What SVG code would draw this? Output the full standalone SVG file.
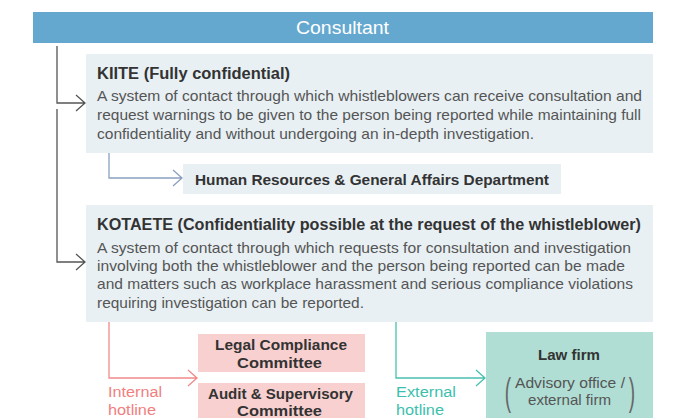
<svg xmlns="http://www.w3.org/2000/svg" width="681" height="418" viewBox="0 0 681 418">
<style>
text{font-family:"Liberation Sans",Arial,Helvetica,sans-serif}
.t{font-size:16px;font-weight:bold;fill:#333}
.b{font-size:15px;fill:#555}
.n{font-size:15px;font-weight:bold;fill:#333}
.c{fill:none;stroke-width:1.3}
.par{font-size:38px;fill:#666;font-weight:normal}
</style>
<rect width="681" height="418" fill="#fff"/>
<g id="consultant">
<rect x="33" y="12" width="620" height="31" fill="#65a8cf"/>
<text x="296" y="34" font-size="18.5" fill="#fff" textLength="93" lengthAdjust="spacingAndGlyphs">Consultant</text>
</g>
<g id="kiite">
<rect x="86" y="54" width="567" height="99" fill="#e8f0f4"/>
<text x="97" y="79" class="t" textLength="193" lengthAdjust="spacingAndGlyphs">KIITE (Fully confidential)</text>
<text x="97" y="101" class="b" textLength="545" lengthAdjust="spacingAndGlyphs">A system of contact through which whistleblowers can receive consultation and</text>
<text x="97" y="120" class="b" textLength="544" lengthAdjust="spacingAndGlyphs">request warnings to be given to the person being reported while maintaining full</text>
<text x="97" y="139" class="b" textLength="437" lengthAdjust="spacingAndGlyphs">confidentiality and without undergoing an in-depth investigation.</text>
</g>
<g id="hr">
<rect x="183" y="164" width="378" height="30" fill="#e8f0f4"/>
<text x="195" y="185" class="n" textLength="354" lengthAdjust="spacingAndGlyphs">Human Resources &amp; General Affairs Department</text>
</g>
<g id="kotaete">
<rect x="86" y="205" width="567" height="117" fill="#e8f0f4"/>
<text x="97" y="230" class="t" textLength="544" lengthAdjust="spacingAndGlyphs">KOTAETE (Confidentiality possible at the request of the whistleblower)</text>
<text x="97" y="253" class="b" textLength="534" lengthAdjust="spacingAndGlyphs">A system of contact through which requests for consultation and investigation</text>
<text x="97" y="271" class="b" textLength="528" lengthAdjust="spacingAndGlyphs">involving both the whistleblower and the person being reported can be made</text>
<text x="97" y="289" class="b" textLength="536" lengthAdjust="spacingAndGlyphs">and matters such as workplace harassment and serious compliance violations</text>
<text x="97" y="308" class="b" textLength="267" lengthAdjust="spacingAndGlyphs">requiring investigation can be reported.</text>
</g>
<g id="legal">
<rect x="198" y="334" width="167" height="38" fill="#f8d0d0"/>
<text x="215" y="350" class="n" textLength="132" lengthAdjust="spacingAndGlyphs">Legal Compliance</text>
<text x="237" y="368" class="n" textLength="85" lengthAdjust="spacingAndGlyphs">Committee</text>
</g>
<g id="audit">
<rect x="198" y="383" width="167" height="40" fill="#f8d0d0"/>
<text x="208" y="399" class="n" textLength="145" lengthAdjust="spacingAndGlyphs">Audit &amp; Supervisory</text>
<text x="237" y="416" class="n" textLength="85" lengthAdjust="spacingAndGlyphs">Committee</text>
</g>
<g id="lawfirm">
<rect x="486" y="332" width="167" height="90" fill="#b0ddd4"/>
<text x="538" y="360" class="n" textLength="62" lengthAdjust="spacingAndGlyphs">Law firm</text>
<text x="515" y="388" class="b" textLength="110" lengthAdjust="spacingAndGlyphs">Advisory office /</text>
<text x="528" y="405" class="b" textLength="83" lengthAdjust="spacingAndGlyphs">external firm</text>
<text x="508" y="405" text-anchor="middle" class="par" transform="translate(508 0) scale(0.5 1) translate(-508 0)">(</text>
<text x="632" y="405" text-anchor="middle" class="par" transform="translate(632 0) scale(0.5 1) translate(-632 0)">)</text>
</g>
<g id="labels">
<text x="108" y="397" font-size="15.5" fill="#f07e80" textLength="54" lengthAdjust="spacingAndGlyphs">Internal</text>
<text x="108" y="415" font-size="15.5" fill="#f07e80" textLength="48" lengthAdjust="spacingAndGlyphs">hotline</text>
<text x="396" y="397" font-size="15.5" fill="#3dbfad" textLength="60" lengthAdjust="spacingAndGlyphs">External</text>
<text x="396" y="415" font-size="15.5" fill="#3dbfad" textLength="48" lengthAdjust="spacingAndGlyphs">hotline</text>
</g>
<g id="connectors">
<path class="c" stroke="#555" d="M57,46 V103 H85 M76,95 L85,103 L76,111"/>
<path class="c" stroke="#555" d="M57,109 V262 H85 M76,254 L85,262 L76,270"/>
<path class="c" stroke="#8aa0c0" d="M109,153 V178 H182 M173,170 L182,178 L173,186"/>
<path class="c" stroke="#f08a8a" d="M109,322 V378 H197 M188,370 L197,378 L188,386"/>
<path class="c" stroke="#48c0ae" d="M396,322 V378 H485 M476,370 L485,378 L476,386"/>
</g>
</svg>
